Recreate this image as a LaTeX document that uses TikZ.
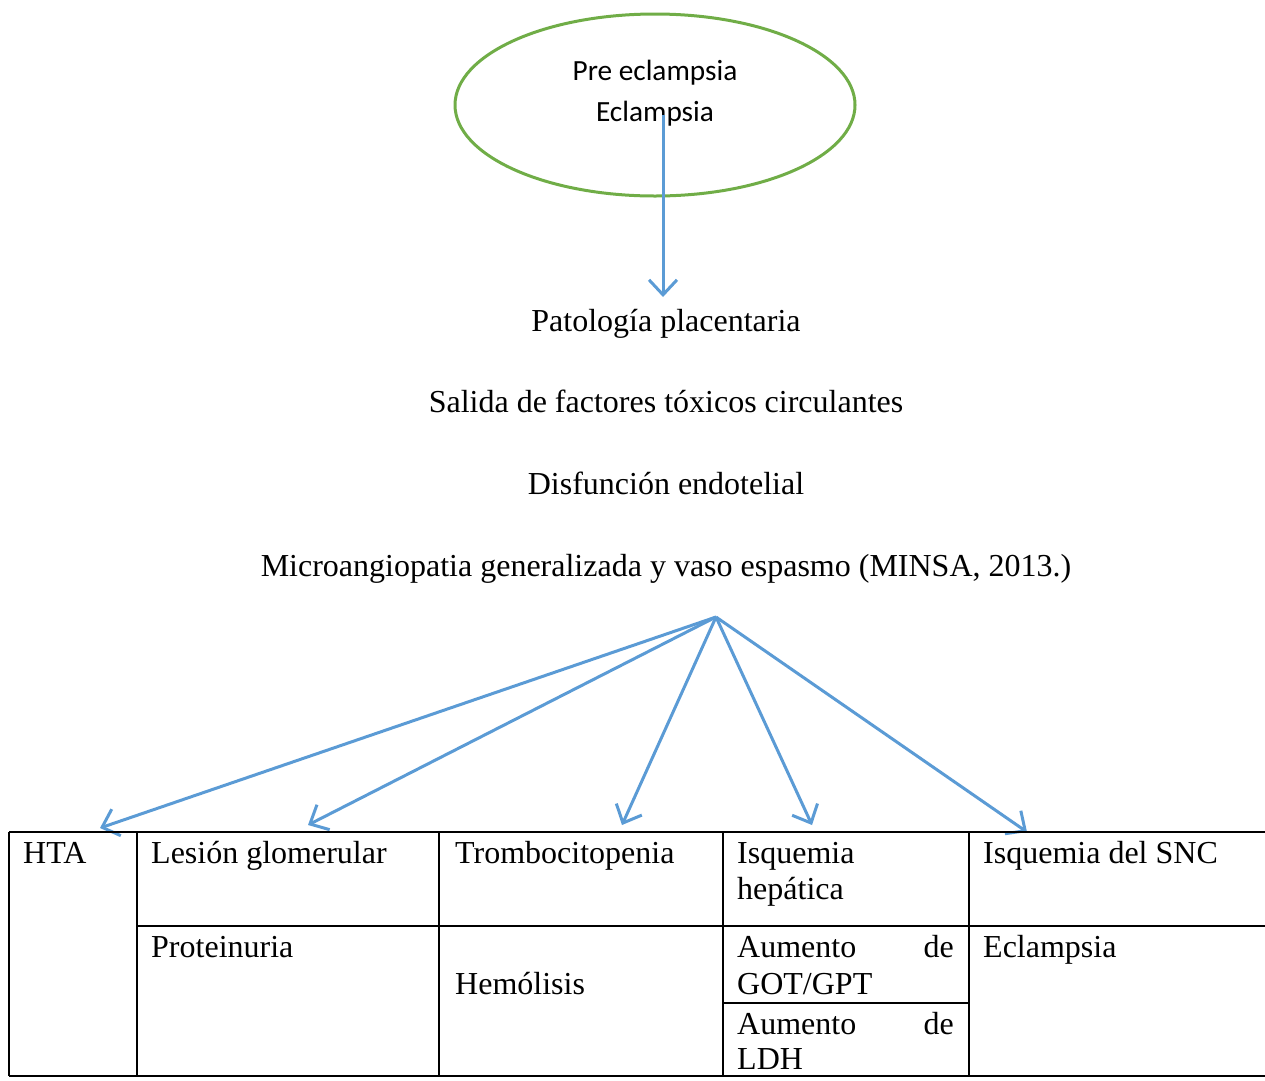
\documentclass[tikz,border=0pt]{standalone}
\usepackage{fontspec}
\setmainfont{Liberation Serif}
\newfontfamily\calfont{Carlito}
\usetikzlibrary{arrows.meta}
\definecolor{ogreen}{RGB}{112,173,71}
\definecolor{oblue}{RGB}{91,155,213}
\begin{document}
\begin{tikzpicture}[x=1pt,y=-1pt,
  txt/.style={inner sep=0pt,font=\fontsize{32}{38}\selectfont},
  ell/.style={inner sep=0pt,font=\calfont\fontsize{29.3}{34}\selectfont},
  conn/.style={draw=oblue,line width=3pt,-{Straight Barb[length=15pt,width=28pt,line width=3pt]}},
  grid/.style={line width=2.6pt,black}]
\useasboundingbox (0,0) rectangle (1265,1080);
% ellipse
\draw[ogreen,line width=3pt] (655,105) ellipse [x radius=200,y radius=91];
\node[ell,anchor=base] (pe) at (655,80) {Pre eclampsia};
\node[ell,anchor=base] (ec) at (655,121) {Eclampsia};
\coordinate (e1) at (663,115);
\coordinate (a1) at (663,297);
\draw[conn] (e1) -- (a1);
% chain texts
\node[txt,anchor=base] (pat) at (666,331) {Patología placentaria};
\node[txt,anchor=base] (sal) at (666,412) {Salida de factores tóxicos circulantes};
\node[txt,anchor=base] (dis) at (666,494) {Disfunción endotelial};
\node[txt,anchor=base] (mic) at (666,576) {Microangiopatia generalizada y vaso espasmo (MINSA, 2013.)};
% fan
\coordinate (fan) at (716,617);
\coordinate (t1) at (100,828);
\coordinate (t2) at (308,825);
\coordinate (t3) at (622,825);
\coordinate (t4) at (812,825);
\coordinate (t5) at (1027,832);
\foreach \t in {t1,t2,t3,t4,t5} \draw[conn] (fan) -- (\t);
% table
\draw[grid] (9,832) -- (1265,832);
\draw[grid] (9,1076) -- (1265,1076);
\draw[grid] (137,926) -- (1265,926);
\draw[grid] (723,1003) -- (969,1003);
\foreach \x in {9,137,439,723,969} \draw[grid] (\x,832) -- (\x,1076);
% table texts
\node[txt,anchor=base west] (hta) at (23,863) {HTA};
\node[txt,anchor=base west] (les) at (151,863) {Lesión glomerular};
\node[txt,anchor=base west] (tro) at (455,863) {Trombocitopenia};
\node[txt,anchor=base west] (isq1) at (737,863) {Isquemia};
\node[txt,anchor=base west] (isq2) at (737,899) {hepática};
\node[txt,anchor=base west] (snc) at (983,863) {Isquemia del SNC};
\node[txt,anchor=base west] (pro) at (151,957) {Proteinuria};
\node[txt,anchor=base west] (hem) at (455,994) {Hemólisis};
\node[txt,anchor=base west] (au1) at (737,957) {Aumento};
\node[txt,anchor=base east] (de1) at (954,957) {de};
\node[txt,anchor=base west] (got) at (737,994) {GOT/GPT};
\node[txt,anchor=base west] (au2) at (737,1034) {Aumento};
\node[txt,anchor=base east] (de2) at (954,1034) {de};
\node[txt,anchor=base west] (ldh) at (737,1069) {LDH};
\node[txt,anchor=base west] (ecl) at (983,957) {Eclampsia};
\end{tikzpicture}
\end{document}
